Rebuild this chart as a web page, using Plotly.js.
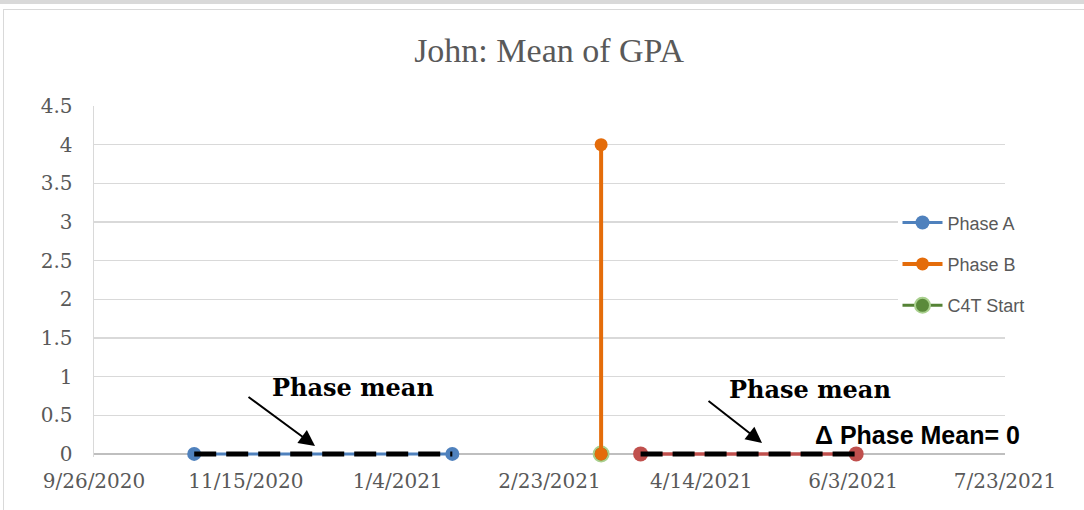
<!DOCTYPE html>
<html>
<head>
<meta charset="utf-8">
<script src="https://cdn.plot.ly/plotly-3.0.1.min.js"></script>
<style>
  body { margin: 0; background: #fff; }
  #topband { position: absolute; left: 0; top: 0; width: 1084px; height: 4px; background: #d9d9d9; }
  #frame { position: absolute; left: 3px; top: 9px; width: 1090px; height: 520px; border: 1px solid #d9d9d9; }
  #chart { position: absolute; left: 0; top: 0; width: 1084px; height: 510px; }
</style>
</head>
<body>
<div id="topband"></div>
<div id="frame"></div>
<div id="chart"></div>
<script>
// Series data
const phaseADates = ["2020-10-29", "2021-01-22"];
const phaseAValues = [0, 0];

const phaseBDates = ["2021-03-12", "2021-03-12"];
const phaseBValues = [4, 0];

const c4tDates = ["2021-03-12"];
const c4tValues = [0];

// second stretch of the intervention phase (red, not in legend)
const phaseB2Dates = ["2021-03-25", "2021-06-04"];
const phaseB2Values = [0, 0];

// phase mean lines
const meanADates = ["2020-10-29", "2021-01-22"];
const meanAValues = [0, 0];
const meanBDates = ["2021-03-25", "2021-06-04"];
const meanBValues = [0, 0];

const xStart = "2020-09-26";
const xEnd = "2021-07-23";
const DAY = 86400000;

const serif = "DejaVu Serif, Liberation Serif, serif";
const sans = "Liberation Sans, Arial, sans-serif";
const grey = "#595959";

const traces = [
  {
    x: phaseADates, y: phaseAValues, name: "Phase A",
    mode: "lines+markers", legendgroup: "a", legendrank: 1, cliponaxis: false,
    line: { color: "#4f81bd", width: 3 },
    marker: { color: "#4f81bd", size: 14 }
  },
  {
    x: c4tDates, y: c4tValues, name: "C4T Start",
    mode: "lines+markers", legendgroup: "c", legendrank: 3, cliponaxis: false,
    line: { color: "#548235", width: 3 },
    marker: { color: "#5a8a3a", size: 15, line: { color: "#a9d08e", width: 2 } }
  },
  {
    x: phaseBDates, y: phaseBValues, name: "Phase B",
    mode: "lines+markers", legendgroup: "b", legendrank: 2, cliponaxis: false,
    line: { color: "#e46c0a", width: 4 },
    marker: { color: "#e46c0a", size: 13 }
  },
  {
    x: phaseB2Dates, y: phaseB2Values, name: "Phase B (cont.)",
    mode: "lines+markers", showlegend: false, cliponaxis: false,
    line: { color: "#c0504d", width: 3.5 },
    marker: { color: "#c0504d", size: 15 }
  },
  {
    x: meanADates, y: meanAValues, name: "Mean A",
    mode: "lines", showlegend: false, cliponaxis: false,
    line: { color: "#000", width: 5, dash: "22px,10px" }
  },
  {
    x: meanBDates, y: meanBValues, name: "Mean B",
    mode: "lines", showlegend: false, cliponaxis: false,
    line: { color: "#000", width: 5, dash: "22px,10px" }
  }
];

const layout = {
  width: 1084,
  height: 510,
  margin: { l: 94, r: 79, t: 106, b: 53 },
  paper_bgcolor: "rgba(0,0,0,0)",
  plot_bgcolor: "rgba(0,0,0,0)",
  title: {
    text: "John: Mean of GPA",
    font: { family: "Liberation Serif, serif", size: 34, color: grey },
    x: 0.5065, xanchor: "center",
    y: 0.902, yanchor: "middle"
  },
  xaxis: {
    type: "date",
    range: [xStart, xEnd],
    tick0: xStart,
    dtick: 50 * DAY,
    tickformat: "%-m/%-d/%Y",
    showgrid: false,
    zeroline: false,
    showline: false,
    ticks: "",
    ticklabelstandoff: 10,
    tickfont: { family: serif, size: 20, color: grey }
  },
  yaxis: {
    range: [-0.04, 4.5],
    tick0: 0,
    dtick: 0.5,
    showgrid: true,
    gridcolor: "#d9d9d9",
    gridwidth: 1.5,
    zeroline: true,
    zerolinecolor: "#bfbfbf",
    zerolinewidth: 1.5,
    showline: true,
    linecolor: "#d9d9d9",
    linewidth: 1.5,
    ticks: "",
    ticklabelstandoff: 16,
    tickfont: { family: serif, size: 20, color: grey }
  },
  showlegend: true,
  legend: {
    x: 0.882, xanchor: "left",
    y: 0.72, yanchor: "top",
    bgcolor: "#fff",
    traceorder: "grouped",
    tracegroupgap: 15,
    itemwidth: 40,
    font: { family: sans, size: 18, color: grey }
  },
  annotations: [
    {
      xref: "paper", yref: "paper", x: 0.2426, y: 0.0316,
      ax: -68, ay: -50, showarrow: true,
      arrowhead: 2, arrowsize: 1.6, arrowwidth: 2, arrowcolor: "#000", text: ""
    },
    {
      xref: "paper", yref: "paper", x: 0.7333, y: 0.0402,
      ax: -55, ay: -43, showarrow: true,
      arrowhead: 2, arrowsize: 1.6, arrowwidth: 2, arrowcolor: "#000", text: ""
    },
    {
      xref: "paper", yref: "paper", x: 0.2843, y: 0.1983,
      xanchor: "center", yanchor: "middle",
      showarrow: false, text: "<b>Phase mean</b>",
      font: { family: serif, size: 24, color: "#000" }
    },
    {
      xref: "paper", yref: "paper", x: 0.786, y: 0.1925,
      xanchor: "center", yanchor: "middle",
      showarrow: false, text: "<b>Phase mean</b>",
      font: { family: serif, size: 24, color: "#000" }
    },
    {
      xref: "paper", yref: "paper", x: 0.9045, y: 0.0632,
      xanchor: "center", yanchor: "middle",
      showarrow: false, text: "<b>Δ Phase Mean= 0</b>",
      font: { family: sans, size: 25, color: "#000" }
    }
  ]
};

Plotly.newPlot("chart", traces, layout, { displayModeBar: false, staticPlot: true });
</script>
</body>
</html>
